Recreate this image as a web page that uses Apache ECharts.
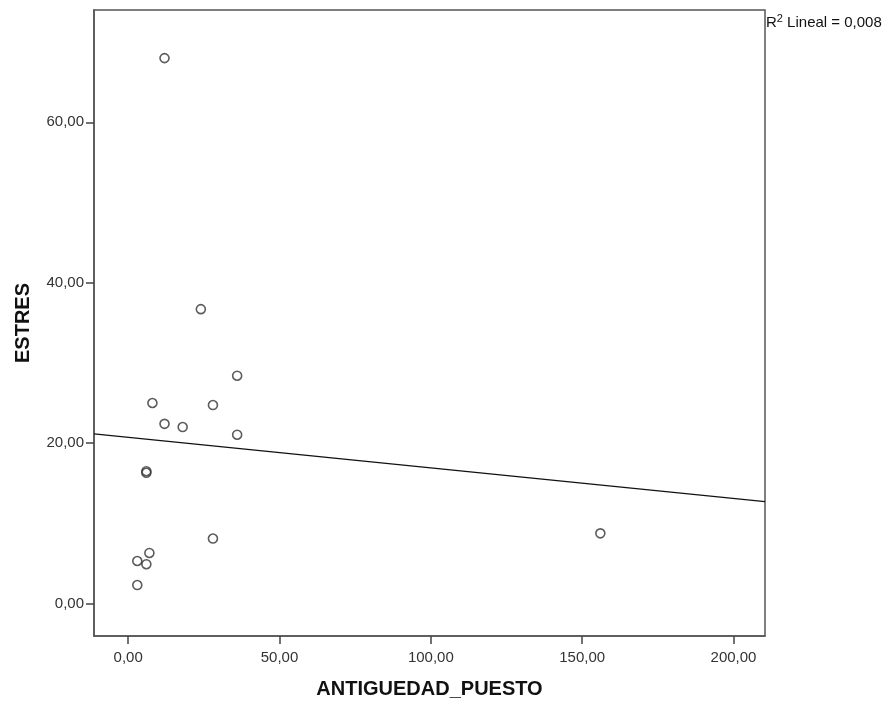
<!DOCTYPE html>
<html>
<head>
<meta charset="utf-8">
<script src="https://cdn.jsdelivr.net/npm/echarts@6/dist/echarts.min.js"></script>
<style>
html,body{margin:0;padding:0;background:#fff;}
#chart{width:889px;height:702px;}
</style>
</head>
<body>
<div id="chart"></div>
<script>
// Data
const antiguedad = [12, 24, 36, 8, 28, 12, 18, 36, 6, 6, 28, 7, 3, 6, 3, 156];
const estres     = [68, 36.7, 28.4, 25, 24.75, 22.4, 22, 21.05, 16.3, 16.5, 8.1, 6.3, 5.3, 4.9, 2.3, 8.75];
const xTicks = [0, 50, 100, 150, 200];
const yTicks = [0, 20, 40, 60];
const xRange = [-11.3, 210.4];
const yRange = [-4.05, 74];
const xName = 'ANTIGUEDAD_PUESTO';
const yName = 'ESTRES';
const r2Label = ' Lineal = 0,008';

// Linear regression from the data
const n = antiguedad.length;
const mx = antiguedad.reduce((a, b) => a + b, 0) / n;
const my = estres.reduce((a, b) => a + b, 0) / n;
let sxy = 0, sxx = 0;
for (let i = 0; i < n; i++) {
  sxy += (antiguedad[i] - mx) * (estres[i] - my);
  sxx += (antiguedad[i] - mx) * (antiguedad[i] - mx);
}
const slope = sxy / sxx;
const intercept = my - slope * mx;
const fitLine = xRange.map(x => [x, intercept + slope * x]);

const fmt = v => v.toFixed(2).replace('.', ',');
const FONT = '"Liberation Sans", Arial, sans-serif';

const chart = echarts.init(document.getElementById('chart'));
chart.setOption({
  animation: false,
  backgroundColor: '#fff',
  grid: {
    left: 94, top: 10, right: 124, bottom: 66,
    outerBoundsMode: 'none', containLabel: false,
    show: true, borderColor: '#555', borderWidth: 1.5, backgroundColor: 'transparent'
  },
  xAxis: {
    type: 'value',
    min: xRange[0], max: xRange[1],
    splitLine: { show: false },
    axisLine: { show: true, onZero: false, lineStyle: { color: '#555', width: 1.5 } },
    axisTick: { show: true, customValues: xTicks, length: 8, lineStyle: { color: '#444', width: 1.5 } },
    axisLabel: { customValues: xTicks, formatter: fmt, margin: 14, color: '#333', fontSize: 15, fontFamily: FONT },
    name: xName, nameLocation: 'middle', nameGap: 43,
    nameTextStyle: { fontSize: 20, fontWeight: 'bold', color: '#111', fontFamily: FONT }
  },
  yAxis: {
    type: 'value',
    min: yRange[0], max: yRange[1],
    splitLine: { show: false },
    axisLine: { show: true, onZero: false, lineStyle: { color: '#555', width: 1.5 } },
    axisTick: { show: true, customValues: yTicks, length: 8, lineStyle: { color: '#444', width: 1.5 } },
    axisLabel: { customValues: yTicks, formatter: fmt, margin: 10, color: '#333', fontSize: 15, fontFamily: FONT },
    name: yName, nameLocation: 'middle', nameGap: 61,
    nameTextStyle: { fontSize: 20, fontWeight: 'bold', color: '#111', fontFamily: FONT }
  },
  graphic: [{
    type: 'text',
    left: 766, top: 13,
    style: {
      text: '{r|R}{s|2}{r|' + r2Label + '}',
      rich: {
        r: { fontSize: 15, fontFamily: FONT, fill: '#111', lineHeight: 17, verticalAlign: 'bottom' },
        s: { fontSize: 11, fontFamily: FONT, fill: '#111', lineHeight: 17, verticalAlign: 'top' }
      }
    }
  }],
  series: [
    {
      type: 'line',
      data: fitLine,
      symbol: 'none',
      lineStyle: { color: '#111', width: 1.3 },
      silent: true,
      z: 2
    },
    {
      type: 'scatter',
      data: antiguedad.map((x, i) => [x, estres[i]]),
      symbol: 'circle',
      symbolSize: 9,
      itemStyle: { color: 'rgba(255,255,255,0)', borderColor: '#333', borderWidth: 1.6 },
      z: 3
    }
  ]
});
</script>
</body>
</html>
